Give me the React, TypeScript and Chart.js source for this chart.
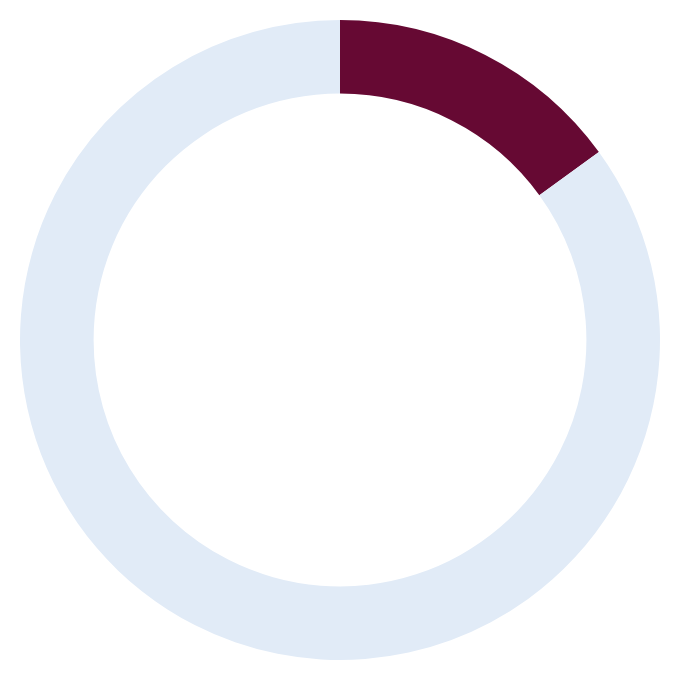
import React, { useEffect, useRef } from "react";
import { Chart, registerables } from "chart.js";

Chart.register(...registerables);

const labels = ["Share", "Remainder"];
const values = [15, 85];
const colors = ["#660933", "#E1EBF7"];

export default function App() {
  const ref = useRef<HTMLCanvasElement | null>(null);
  useEffect(() => {
    if (!ref.current) return;
    const chart = new Chart(ref.current, {
      type: "doughnut",
      data: {
        labels,
        datasets: [{ data: values, backgroundColor: colors, borderWidth: 0 }],
      },
      options: {
        animation: false,
        responsive: false,
        cutout: "77%",
        layout: { padding: 12 },
        plugins: { legend: { display: false }, tooltip: { enabled: false } },
      },
    });
    return () => chart.destroy();
  }, []);
  return (
    <div style={{ width: 664, height: 664 }}>
      <canvas ref={ref} width={664} height={664} style={{ display: "block" }} />
    </div>
  );
}
